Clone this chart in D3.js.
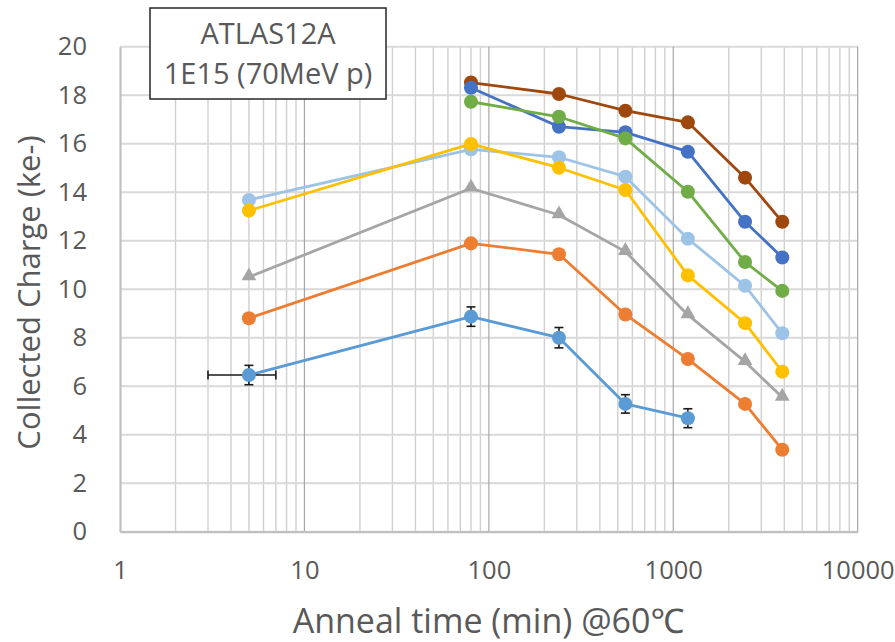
<!DOCTYPE html>
<html>
<head>
<meta charset="utf-8">
<script src="https://cdn.jsdelivr.net/npm/d3@7"></script>
<style>
  html, body { margin: 0; padding: 0; background: #fff; }
  svg { display: block; font-family: "Open Sans", "Noto Sans", sans-serif; }
</style>
</head>
<body>
<svg id="chart" width="895" height="642"></svg>
<script>
// Anneal times (min) and collected charge (ke-) per sample
const annealTimes = [5, 80, 240, 550, 1200, 2450, 3900];

const seriesBlue      = [6.46, 8.87, 8.0, 5.27, 4.68, null, null];
const seriesBlueErr   = [0.4, 0.4, 0.42, 0.38, 0.39, null, null];
const seriesBlueXErr  = [2, 2, 2, 2, 2, null, null];
const seriesOrange    = [8.8, 11.89, 11.44, 8.96, 7.12, 5.27, 3.38];
const seriesGray      = [10.5, 14.16, 13.06, 11.55, 8.94, 7.01, 5.54];
const seriesGold      = [13.24, 15.99, 15.01, 14.09, 10.57, 8.6, 6.6];
const seriesLightBlue = [13.68, 15.77, 15.44, 14.64, 12.08, 10.14, 8.18];
const seriesGreen     = [null, 17.73, 17.11, 16.22, 14.02, 11.12, 9.93];
const seriesDarkBlue  = [null, 18.31, 16.7, 16.47, 15.67, 12.78, 11.31];
const seriesBrown     = [null, 18.52, 18.05, 17.36, 16.88, 14.6, 12.78];

const xTickValues = [1, 10, 100, 1000, 10000];
const yTickValues = [0, 2, 4, 6, 8, 10, 12, 14, 16, 18, 20];

const titleLines = ["ATLAS12A", "1E15 (70MeV p)"];
const xTitle = "Anneal time (min) @60℃";
const yTitle = "Collected Charge (ke-)";

// drawing order: later series sit on top
const series = [
  { values: seriesBrown,     color: "#9E480E", marker: "circle" },
  { values: seriesDarkBlue,  color: "#4472C4", marker: "circle" },
  { values: seriesGreen,     color: "#70AD47", marker: "circle" },
  { values: seriesLightBlue, color: "#9DC3E6", marker: "circle" },
  { values: seriesGold,      color: "#FFC000", marker: "circle" },
  { values: seriesGray,      color: "#A5A5A5", marker: "triangle" },
  { values: seriesOrange,    color: "#ED7D31", marker: "circle" },
  { values: seriesBlue,      color: "#5B9BD5", marker: "circle",
    yErr: seriesBlueErr, xErr: seriesBlueXErr }
];

const svg = d3.select("#chart");
const plotLeft = 120, plotRight = 857.7, plotTop = 46.7, plotBottom = 531.7;

const x = d3.scaleLog().domain([1, 10000]).range([plotLeft, plotRight]);
const y = d3.scaleLinear().domain([0, 20]).range([plotBottom, plotTop]);

const textColor = "#595959";

// minor vertical gridlines (2..9 within each decade)
const minorX = [];
for (let d = 1; d < 10000; d *= 10) {
  for (let k = 2; k <= 9; k++) minorX.push(d * k);
}
const grid = svg.append("g");
grid.selectAll("line.minor").data(minorX).join("line")
  .attr("class", "minor")
  .attr("x1", d => x(d)).attr("x2", d => x(d))
  .attr("y1", plotTop).attr("y2", plotBottom)
  .attr("stroke", "#d0d0d0").attr("stroke-width", 1.4);

// horizontal gridlines
grid.selectAll("line.h").data(yTickValues).join("line")
  .attr("class", "h")
  .attr("x1", plotLeft).attr("x2", plotRight)
  .attr("y1", d => y(d)).attr("y2", d => y(d))
  .attr("stroke", "#d9d9d9").attr("stroke-width", 2);

// major vertical gridlines at decades
grid.selectAll("line.major").data(xTickValues.slice(1)).join("line")
  .attr("class", "major")
  .attr("x1", d => x(d)).attr("x2", d => x(d))
  .attr("y1", plotTop).attr("y2", plotBottom)
  .attr("stroke", "#a6a6a6").attr("stroke-width", 1.2);

// axes
const xAxis = d3.axisBottom(x).tickValues(xTickValues).tickFormat(d3.format("d")).tickSize(0).tickPadding(29);
const xg = svg.append("g").attr("transform", `translate(0,${plotBottom})`).call(xAxis);
xg.select(".domain").attr("stroke", "#c0c0c0").attr("stroke-width", 2.2);
xg.selectAll("text").attr("fill", textColor).attr("font-size", 25.5)
  .attr("font-family", "Open Sans, sans-serif");

const yAxis = d3.axisLeft(y).tickValues(yTickValues).tickSize(0).tickPadding(33);
const yg = svg.append("g").attr("transform", `translate(${plotLeft},0)`).call(yAxis);
yg.select(".domain").attr("stroke", "#c0c0c0").attr("stroke-width", 2.2);
yg.selectAll("text").attr("fill", textColor).attr("font-size", 25.5)
  .attr("font-family", "Open Sans, sans-serif");

// series lines, error bars and markers
const line = d3.line()
  .x(d => x(d.t)).y(d => y(d.v));

series.forEach(s => {
  const pts = annealTimes.map((t, i) => ({ t, v: s.values[i], i })).filter(d => d.v != null);
  const g = svg.append("g");
  g.append("path").datum(pts)
    .attr("d", line).attr("fill", "none")
    .attr("stroke", s.color).attr("stroke-width", 2.8)
    .attr("stroke-linejoin", "round");

  if (s.yErr) {
    const eg = g.append("g").attr("stroke", "#1a1a1a").attr("stroke-width", 1.6).attr("fill", "none");
    pts.forEach(p => {
      const e = s.yErr[p.i];
      const y0 = y(p.v - e), y1 = y(p.v + e), cx = x(p.t);
      eg.append("line").attr("x1", cx).attr("x2", cx).attr("y1", y0).attr("y2", y1);
      eg.append("line").attr("x1", cx - 4.5).attr("x2", cx + 4.5).attr("y1", y0).attr("y2", y0);
      eg.append("line").attr("x1", cx - 4.5).attr("x2", cx + 4.5).attr("y1", y1).attr("y2", y1);
      const xe = s.xErr[p.i];
      const x0 = x(p.t - xe), x1 = x(p.t + xe), cy = y(p.v);
      eg.append("line").attr("x1", x0).attr("x2", x1).attr("y1", cy).attr("y2", cy);
      eg.append("line").attr("x1", x0).attr("x2", x0).attr("y1", cy - 4.5).attr("y2", cy + 4.5);
      eg.append("line").attr("x1", x1).attr("x2", x1).attr("y1", cy - 4.5).attr("y2", cy + 4.5);
    });
  }

  const sym = s.marker === "triangle"
    ? d3.symbol().type(d3.symbolTriangle).size(95)
    : d3.symbol().type(d3.symbolCircle).size(155);
  g.selectAll("path.m").data(pts).join("path")
    .attr("class", "m")
    .attr("d", sym)
    .attr("transform", d => `translate(${x(d.t)},${y(d.v) + (s.marker === "triangle" ? -1 : 0)})`)
    .attr("fill", s.color);
});

// title box
const tb = svg.append("g");
tb.append("rect").attr("x", 150).attr("y", 8).attr("width", 236).attr("height", 91)
  .attr("fill", "#fff").attr("stroke", "#262626").attr("stroke-width", 1.5);
tb.selectAll("text").data(titleLines).join("text")
  .attr("x", 268).attr("y", (d, i) => i === 0 ? 43.5 : 84)
  .attr("text-anchor", "middle").attr("fill", textColor)
  .attr("font-size", 29).text(d => d);

// axis titles
svg.append("text")
  .attr("x", 488.5).attr("y", 633)
  .attr("text-anchor", "middle").attr("fill", textColor)
  .attr("font-size", 34).text(xTitle);

svg.append("text")
  .attr("transform", "translate(40,292.5) rotate(-90)")
  .attr("text-anchor", "middle").attr("fill", textColor)
  .attr("font-size", 31).text(yTitle);
</script>
</body>
</html>
